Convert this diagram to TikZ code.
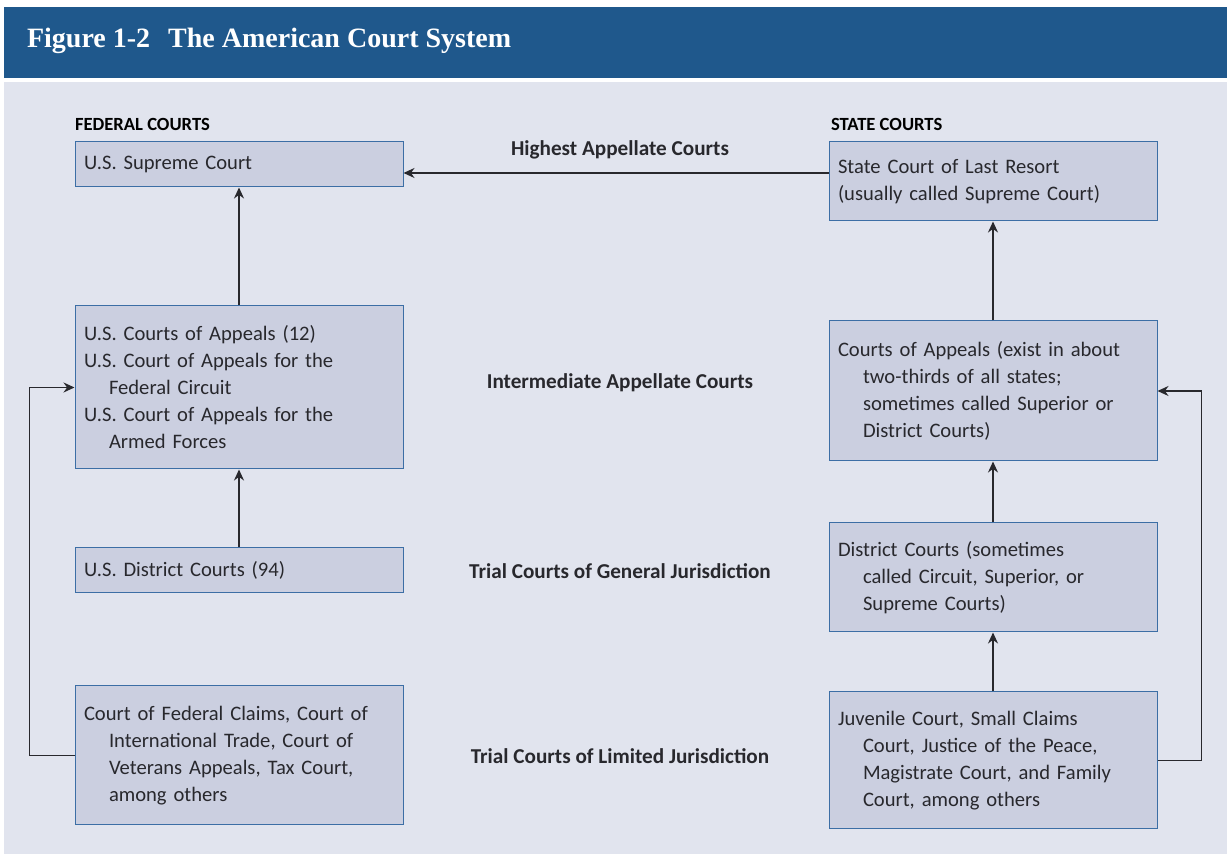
\documentclass[tikz,border=0pt]{standalone}
\usepackage{fontspec}
\setmainfont{Carlito}
\newfontfamily\titlefont{Liberation Serif}
\usetikzlibrary{arrows.meta,positioning}

\definecolor{bandblue}{RGB}{31,88,140}
\definecolor{panelgray}{RGB}{225,228,238}
\definecolor{boxfill}{RGB}{203,207,224}
\definecolor{boxline}{RGB}{60,110,165}
\definecolor{inkgray}{RGB}{40,40,45}

\tikzset{
  court/.style={draw=boxline, line width=0.5pt, fill=boxfill, minimum width=164pt,
    text width=155pt, inner xsep=4.5pt, inner ysep=0pt, align=left,
    font=\fontsize{10.3}{13.5}\selectfont, text=inkgray},
  level/.style={font=\bfseries\fontsize{10.6}{12}\selectfont, text=inkgray},
  heading/.style={font=\bfseries\fontsize{9.3}{10}\selectfont, text=black, anchor=west},
  link/.style={draw=inkgray, line width=0.75pt, -{Stealth[length=5.5pt,width=5pt]}}
}
\newcommand{\ind}{\hspace*{12.5pt}}

\begin{document}
\begin{tikzpicture}[x=0.5pt,y=-0.5pt]
  \useasboundingbox (0,0) rectangle (1227,854);
  % title band and panel
  \fill[bandblue] (4,7) rectangle (1227,78);
  \fill[panelgray] (4,82) rectangle (1227,854);
  \node[anchor=west, text=white, font=\titlefont\bfseries\fontsize{14}{16}\selectfont] (title) at (20,41)
    {Figure 1-2\hspace{9pt}The American Court System};

  % column headings
  \node[heading] (fedhead) at (68,124) {FEDERAL COURTS};
  \node[heading] (statehead) at (824,124) {STATE COURTS};

  % federal courts
  \node[court, minimum height=22.5pt] (sup) at (239,164.5) {U.S. Supreme Court};
  \node[court, minimum height=81.5pt] (fapp) at (239,387.5)
    {U.S. Courts of Appeals (12)\\U.S. Court of Appeals for the\\\ind Federal Circuit\\U.S. Court of Appeals for the\\\ind Armed Forces};
  \node[court, minimum height=22.5pt] (fdist) at (239,570.5) {U.S. District Courts (94)};
  \node[court, minimum height=69.5pt] (fclaims) at (239,755.5)
    {Court of Federal Claims, Court of\\\ind International Trade, Court of\\\ind Veterans Appeals, Tax Court,\\\ind among others};

  % state courts
  \node[court, minimum height=39.5pt] (last) at (993,181.5)
    {State Court of Last Resort\\(usually called Supreme Court)};
  \node[court, minimum height=70pt] (sapp) at (993,391)
    {Courts of Appeals (exist in about\\\ind two-thirds of all states;\\\ind sometimes called Superior or\\\ind District Courts)};
  \node[court, minimum height=54.5pt] (sdist) at (993,577.5)
    {District Courts (sometimes\\\ind called Circuit, Superior, or\\\ind Supreme Courts)};
  \node[court, minimum height=68.5pt] (juv) at (993,760.5)
    {Juvenile Court, Small Claims\\\ind Court, Justice of the Peace,\\\ind Magistrate Court, and Family\\\ind Court, among others};

  % level labels in the middle
  \node[level] (lvlhigh) at (620,150) {Highest Appellate Courts};
  \node[level] (lvlmid) at (620,383) {Intermediate Appellate Courts};
  \node[level] (lvlgen) at (620,571) {Trial Courts of General Jurisdiction};
  \node[level] (lvllim) at (620,756) {Trial Courts of Limited Jurisdiction};

  % appeals upward
  \draw[link] ([yshift=4.25pt]last.west) -- ([yshift=4.25pt]last.west -| sup.east);
  \draw[link] (fapp) -- (sup);
  \draw[link] (fdist) -- (fapp);
  \draw[link] (fclaims.west) -- ++(-22.5pt,0) |- (fapp.west);
  \draw[link] (sapp) -- (last);
  \draw[link] (sdist) -- (sapp);
  \draw[link] (juv) -- (sdist);
  \draw[link] (juv.east) -- ++(22pt,0) |- (sapp.east);
\end{tikzpicture}
\end{document}
